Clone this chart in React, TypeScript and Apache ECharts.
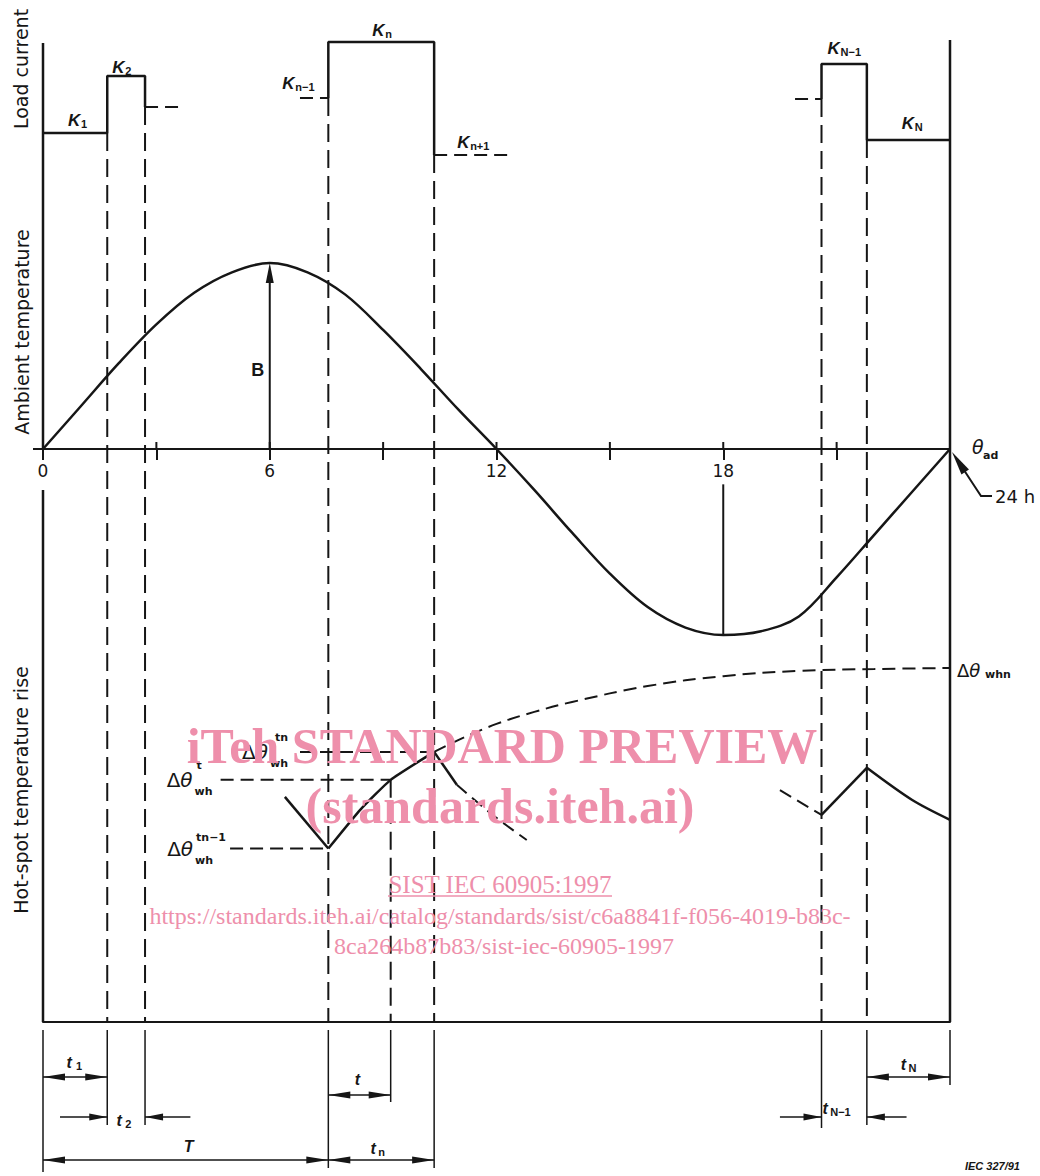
import React, { useEffect, useRef } from "react";
import * as echarts from "echarts";

// ---- time axis (hours) ----
const hourTicks = [0, 3, 6, 9, 12, 15, 18, 21, 24];
const hourLabels = ["0", "", "6", "", "12", "", "18", "", ""];

// ---- load cycle boundaries (h) ----
const t1End = 1.7;
const t2End = 2.7;
const tnStart = 7.55;
const tPoint = 9.2;
const tnEnd = 10.35;
const tN1Start = 20.6;
const tNStart = 21.8;
const dayEnd = 24;

// ---- load current levels (p.u., arbitrary) ----
const K1 = 0.67;
const K2 = 1.24;
const K3 = 0.93;
const Kn_1 = 1.02;
const Kn = 1.58;
const Kn1 = 0.45;
const KN_2 = 1.01;
const KN_1 = 1.36;
const KN = 0.6;

const loadFirst = [[0, K1], [t1End, K1], [t1End, K2], [t2End, K2], [t2End, K3]];
const loadFirstNext = [[t2End, K3], [3.6, K3]];
const loadMidPrev = [[6.8, Kn_1], [tnStart, Kn_1]];
const loadMid = [[tnStart, Kn_1], [tnStart, Kn], [tnEnd, Kn], [tnEnd, Kn1]];
const loadMidNext = [[tnEnd, Kn1], [12.35, Kn1]];
const loadEndPrev = [[19.9, KN_2], [tN1Start, KN_2]];
const loadEnd = [[tN1Start, KN_2], [tN1Start, KN_1], [tNStart, KN_1], [tNStart, KN], [dayEnd, KN]];

// ---- ambient temperature (relative to θad, B = 1) ----
const ambientHours = [0, 1, 2, 3, 4, 5, 6, 7, 8, 9, 10, 11, 12, 13, 14, 15, 16, 17, 18, 19, 20, 21, 22, 23, 24];
const ambientValues = [0, 0.23, 0.46, 0.67, 0.84, 0.95, 1, 0.95, 0.83, 0.64, 0.43, 0.21, 0, -0.22, -0.45, -0.67, -0.85, -0.96, -1, -0.98, -0.9, -0.69, -0.46, -0.23, 0];

// ---- hot-spot temperature rise (relative, Δθwhn = 1) ----
const dTn = 0.763;
const dT = 0.684;
const dTn1 = 0.49;
const hsEnvelope = [[tnEnd, dTn], [11, 0.797], [12, 0.842], [13, 0.876], [14, 0.904], [16, 0.949], [18, 0.977], [20, 0.992], [22, 0.997], [24, 1.0]];
const hsBefore = [[6.4, 0.636], [tnStart, dTn1]];
const hsRise = [[tnStart, dTn1], [8.4, 0.6], [tPoint, dT], [tnEnd, dTn]];
const hsFall = [[tnEnd, dTn], [10.95, 0.67]];
const hsFallNext = [[10.95, 0.67], [11.9, 0.585], [12.8, 0.514]];
const hsLateBefore = [[19.5, 0.655], [tN1Start, 0.585]];
const hsLateRise = [[tN1Start, 0.585], [tNStart, 0.718]];
const hsLateFall = [[tNStart, 0.718], [23, 0.627], [dayEnd, 0.571]];
const refTn = [[6.8, dTn], [tnEnd, dTn]];
const refT = [[4.7, dT], [tPoint, dT]];
const refTn1 = [[4.95, dTn1], [tnStart, dTn1]];

const INK = "#161616";
const PINK = "#ee8fab";
const SANS = '"DejaVu Sans", "Liberation Sans", sans-serif';
const ARIAL = '"Liberation Sans", "DejaVu Sans", sans-serif';
const SERIF = '"Liberation Serif", "DejaVu Serif", serif';

const AX = { A: { xAxisIndex: 0, yAxisIndex: 0 }, B: { xAxisIndex: 1, yAxisIndex: 1 }, C: { xAxisIndex: 2, yAxisIndex: 2 } };

function ser(grid: number, data: number[][], dashed = false, smooth: number | boolean = false, width?: number) {
  return {
    type: "line",
    xAxisIndex: grid,
    yAxisIndex: grid,
    data,
    symbol: "none",
    smooth,
    silent: true,
    z: 3,
    lineStyle: { color: INK, width: width ?? (dashed ? 2 : 2.5), type: dashed ? [13, 7] : "solid", cap: "butt" },
  };
}

export default function App() {
  const ref = useRef<HTMLDivElement>(null);

  useEffect(() => {
    if (!ref.current) return;
    const chart = echarts.init(ref.current, null, { renderer: "svg" });
    const gridBase = { left: 43, right: 90 };
    chart.setOption({
      animation: false,
      backgroundColor: "#ffffff",
      grid: [
        { ...gridBase, top: 40, height: 160 },
        { ...gridBase, top: 225.8, height: 446.4 },
        { ...gridBase, top: 597.2, height: 424.8 },
      ],
      xAxis: [
        { gridIndex: 0, type: "value", min: 0, max: 24, show: false },
        {
          gridIndex: 1, type: "value", min: 0, max: 24, interval: hourTicks[1] - hourTicks[0],
          axisLine: { onZero: true, lineStyle: { color: INK, width: 2 } },
          axisTick: { length: 11, lineStyle: { color: INK, width: 2 } },
          splitLine: { show: false },
          axisLabel: { show: false },
        },
        {
          gridIndex: 2, type: "value", min: 0, max: 24,
          axisLine: { lineStyle: { color: INK, width: 2 } },
          axisTick: { show: false }, axisLabel: { show: false }, splitLine: { show: false },
        },
      ],
      yAxis: [
        { gridIndex: 0, type: "value", min: 0, max: 1.6, show: false },
        { gridIndex: 1, type: "value", min: -1.2, max: 1.2, show: false },
        { gridIndex: 2, type: "value", min: 0, max: 1.2, show: false },
      ],
      series: [
        ser(0, loadFirst), ser(0, loadFirstNext, true), ser(0, loadMidPrev, true), ser(0, loadMid),
        ser(0, loadMidNext, true), ser(0, loadEndPrev, true), ser(0, loadEnd),
        ser(1, ambientHours.map((h, i) => [h, ambientValues[i]]), false, 0.35),
        ser(2, hsEnvelope, true, 0.4), ser(2, hsBefore), ser(2, hsRise, false, 0.15), ser(2, hsFall),
        ser(2, hsFallNext, true, 0.3), ser(2, hsLateBefore, true), ser(2, hsLateRise), ser(2, hsLateFall, false, 0.3),
        ser(2, refTn, true), ser(2, refT, true), ser(2, refTn1, true),
      ],
    });

    const P = (g: "A" | "B" | "C", x: number, y: number): number[] =>
      chart.convertToPixel(AX[g] as any, [x, y]) as number[];
    const X = (h: number) => P("C", h, 0)[0];
    const base = P("C", 0, 0)[1];

    const els: any[] = [];
    const line = (x1: number, y1: number, x2: number, y2: number, w = 2, dash?: number[], color = INK, z = 5) =>
      els.push({ type: "line", silent: true, z, shape: { x1, y1, x2, y2 }, style: { stroke: color, lineWidth: w, lineDash: dash } });
    const head = (tip: number[], from: number[], len = 20, hw = 3.5) => {
      const dx = tip[0] - from[0], dy = tip[1] - from[1];
      const d = Math.hypot(dx, dy) || 1;
      const ux = dx / d, uy = dy / d;
      const bx = tip[0] - ux * len, by = tip[1] - uy * len;
      els.push({
        type: "polygon", silent: true, z: 6,
        shape: { points: [tip, [bx - uy * hw, by + ux * hw], [bx + uy * hw, by - ux * hw]] },
        style: { fill: INK },
      });
    };
    const text = (x: number, y: number, s: string, o: any = {}) =>
      els.push({
        type: "text", silent: true, z: o.z ?? 20, x, y, rotation: o.rotation ?? 0,
        style: {
          text: s, fill: o.fill ?? INK, fontSize: o.size ?? 16, fontFamily: o.family ?? SANS,
          fontWeight: o.weight ?? "normal", fontStyle: o.style ?? "normal",
          align: o.align ?? "left", verticalAlign: o.valign ?? "middle", rich: o.rich,
        },
      });

    // frame lines
    const lt = P("A", 0, 1.57), lb = P("B", 0, 0);
    line(lt[0], lt[1], lb[0], lb[1], 2.5);
    const lb2 = P("B", 0, -0.22);
    line(lb2[0], lb2[1], lb2[0], base, 2.5);
    const rt = P("A", 24, 1.6);
    line(rt[0], rt[1], rt[0], base, 2.5);
    line(lb[0] - 10, lb[1], lb[0], lb[1], 2);

    // ambient axis: upward part of ticks and hour labels
    hourTicks.forEach((h, i) => {
      const p = P("B", h, 0);
      if (i > 0 && i < hourTicks.length - 1) line(p[0], p[1] - 7, p[0], p[1], 2);
      if (hourLabels[i]) text(p[0], p[1] + 22, hourLabels[i], { size: 17, align: "center" });
    });

    // dashed vertical guides
    const guides: [number, "A" | "C", number][] = [
      [t1End, "A", K1], [t2End, "A", K3], [tnStart, "A", Kn_1], [tnEnd, "A", Kn1],
      [tN1Start, "A", KN_2], [tNStart, "A", KN], [tPoint, "C", dT],
    ];
    guides.forEach(([h, g, y]) => {
      const p = P(g, h, y);
      line(p[0], p[1], p[0], base, 2, [18, 8]);
    });

    // B arrow and 18 h line
    const b0 = P("B", 6, 0), b1 = P("B", 6, 1);
    line(b0[0], b0[1], b1[0], b1[1] + 10, 2);
    head(b1, b0, 20, 4);
    text(b0[0] - 12, b0[1] - 79, "B", { size: 18, align: "center", weight: "bold", family: ARIAL });
    const m0 = P("B", 18, -0.19), m1 = P("B", 18, -1);
    line(m0[0], m0[1], m1[0], m1[1], 2);

    // θad and 24 h leader
    const a24 = P("B", 24, 0);
    text(a24[0] + 22, a24[1] - 2, "θ", { size: 19, style: "italic" });
    text(a24[0] + 33, a24[1] + 6, "ad", { size: 11, weight: "bold" });
    els.push({
      type: "polyline", silent: true, z: 5,
      shape: { points: [[a24[0] + 42, a24[1] + 47], [a24[0] + 31, a24[1] + 47], [a24[0] + 8, a24[1] + 12]] },
      style: { stroke: INK, lineWidth: 2, fill: null },
    });
    head([a24[0] + 2, a24[1] + 3], [a24[0] + 31, a24[1] + 47], 24, 4.5);
    text(a24[0] + 45, a24[1] + 47, "24 h", { size: 18 });

    // axis titles
    text(21, 69, "Load current", { size: 19, rotation: Math.PI / 2, align: "center" });
    text(22, 332, "Ambient temperature", { size: 19, rotation: Math.PI / 2, align: "center" });
    text(21, 790, "Hot-spot temperature rise", { size: 19, rotation: Math.PI / 2, align: "center" });

    // K labels
    const kLabels: [string, number, number, number, number][] = [
      ["1", 0, K1, 25, -13], ["2", t1End, K2, 5, -9], ["n−1", tnStart, Kn_1, -46, -15],
      ["n", tnStart, Kn, 44, -12], ["n+1", tnEnd, Kn1, 23, -13], ["N−1", tN1Start, KN_1, 6, -16],
      ["N", tNStart, KN, 35, -17],
    ];
    kLabels.forEach(([s, h, k, dx, dy]) => {
      const p = P("A", h, k);
      text(p[0] + dx, p[1] + dy, "K", { size: 17, style: "italic", weight: "bold", family: ARIAL });
      text(p[0] + dx + 13, p[1] + dy + 4, s, { size: 11, weight: "bold", family: ARIAL });
    });

    // Δθ labels
    const dRich = { a: { fontSize: 20, fontFamily: SANS, fill: INK }, b: { fontSize: 20, fontFamily: SANS, fontStyle: "italic", fill: INK } };
    const dLabels: [number[], string, number, number, number][] = [
      [refTn[0], "tn", -32, -25, -14], [refT[0], "t", -28, -24, -14], [refTn1[0], "tn−1", -37, -34, -11],
    ];
    dLabels.forEach(([pt, sup, dx, sdx, sdy]) => {
      const p = P("C", pt[0], pt[1]);
      text(p[0] + dx, p[1], "{a|Δ}{b|θ}", { align: "right", rich: dRich });
      text(p[0] + sdx, p[1] + sdy, sup, { size: 11, weight: "bold" });
      text(p[0] + dx + 2, p[1] + 12, "wh", { size: 11, weight: "bold" });
    });
    const w1 = P("C", 24, 1.0);
    text(w1[0] + 7, w1[1] + 2, "{a|Δ}{b|θ}", { rich: { a: { ...dRich.a, fontSize: 18 }, b: { ...dRich.b, fontSize: 18 } } });
    text(w1[0] + 35, w1[1] + 6, "whn", { size: 11, weight: "bold" });

    // dimension lines
    const ext: [number, number][] = [
      [0, 1172], [t1End, 1125], [t2End, 1125], [tnStart, 1168], [tPoint, 1102],
      [tnEnd, 1168], [tN1Start, 1128], [tNStart, 1125], [dayEnd, 1085],
    ];
    ext.forEach(([h, y2]) => line(X(h), base + 8, X(h), y2, 1.5));
    type Dim = { a: number; b: number; y: number; out?: [number, number]; lab: string; sub: string; dx: number; ly: number; sdx: number };
    const dims: Dim[] = [
      { a: 0, b: t1End, y: 1077, lab: "t", sub: "1", dx: -6, ly: 1062, sdx: 7 },
      { a: t1End, b: t2End, y: 1117, out: [0.45, 3.9], lab: "t", sub: "2", dx: -7, ly: 1120, sdx: 6 },
      { a: 0, b: tnStart, y: 1160, lab: "T", sub: "", dx: 3, ly: 1146, sdx: 0 },
      { a: tnStart, b: tPoint, y: 1095, lab: "t", sub: "", dx: -2, ly: 1079, sdx: 0 },
      { a: tnStart, b: tnEnd, y: 1160, lab: "t", sub: "n", dx: -8, ly: 1148, sdx: 5 },
      { a: tNStart, b: dayEnd, y: 1077, lab: "t", sub: "N", dx: -5, ly: 1064, sdx: 5 },
      { a: tN1Start, b: tNStart, y: 1117, out: [19.5, 22.85], lab: "t", sub: "N−1", dx: -19, ly: 1108, sdx: 5 },
    ];
    dims.forEach((d) => {
      const xa = X(d.a), xb = X(d.b);
      if (d.out) {
        const oa = X(d.out[0]), ob = X(d.out[1]);
        line(oa, d.y, xa, d.y, 1.5);
        head([xa, d.y], [oa, d.y], 18, 3.5);
        line(ob, d.y, xb, d.y, 1.5);
        head([xb, d.y], [ob, d.y], 18, 3.5);
      } else {
        line(xa, d.y, xb, d.y, 1.5);
        head([xa, d.y], [xb, d.y], 22, 3.5);
        head([xb, d.y], [xa, d.y], 22, 3.5);
      }
      const cx = (xa + xb) / 2 + d.dx;
      text(cx, d.ly, d.lab, { size: 16, style: "italic", weight: "bold", family: ARIAL, align: "center" });
      if (d.sub) text(cx + d.sdx, d.ly + 4, d.sub, { size: 11, weight: "bold", family: ARIAL });
    });
    text(1020, 1166, "IEC 327/91", { size: 11, style: "italic", weight: "bold", family: ARIAL, align: "right" });

    // watermark
    text(502, 746, "iTeh STANDARD PREVIEW", { size: 50, family: SERIF, weight: "bold", fill: PINK, align: "center", z: 100 });
    text(500, 806, "(standards.iteh.ai)", { size: 50, family: SERIF, weight: "bold", fill: PINK, align: "center", z: 100 });
    text(500, 884, "SIST IEC 60905:1997", { size: 25, family: SERIF, fill: PINK, align: "center", z: 100 });
    line(388, 896, 612, 896, 1.3, undefined, PINK, 100);
    text(500, 916, "https://standards.iteh.ai/catalog/standards/sist/c6a8841f-f056-4019-b83c-", { size: 24, family: SERIF, fill: PINK, align: "center", z: 100 });
    text(504, 946, "8ca264b87b83/sist-iec-60905-1997", { size: 24, family: SERIF, fill: PINK, align: "center", z: 100 });

    chart.setOption({ graphic: { elements: els } });
    return () => chart.dispose();
  }, []);

  return (
    <div
      ref={ref}
      style={{ position: "absolute", left: 0, top: 0, width: 1040, height: 1176, background: "#fff" }}
    />
  );
}
